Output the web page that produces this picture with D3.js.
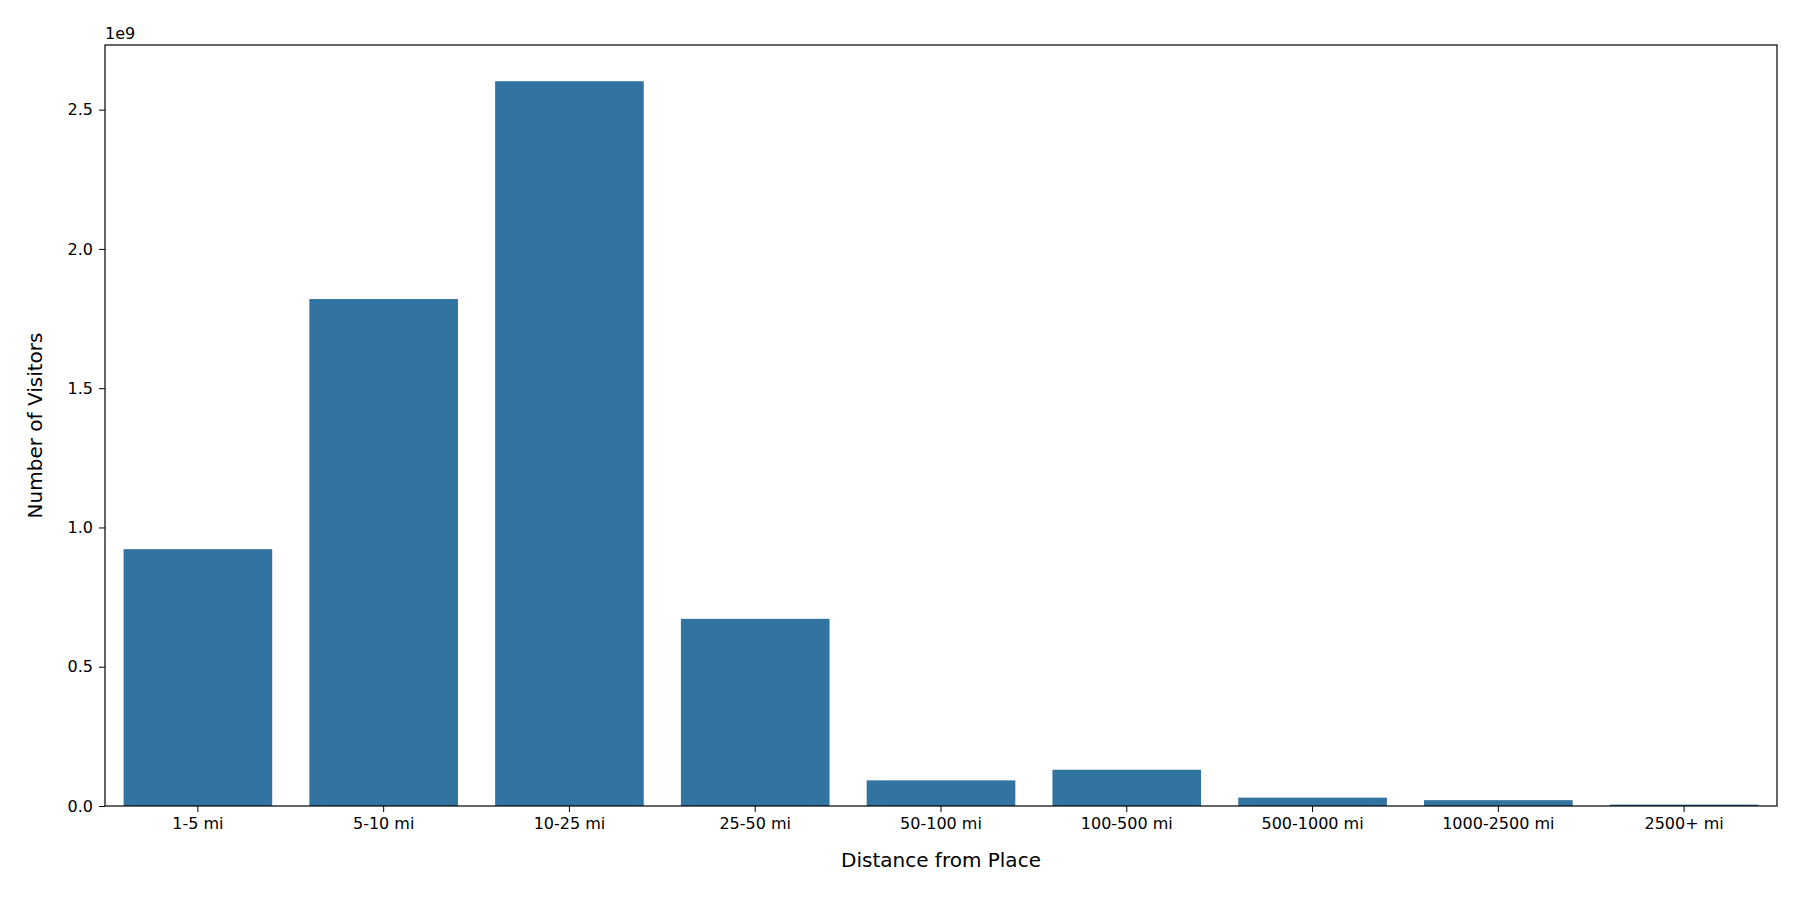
<!DOCTYPE html>
<html>
<head>
<meta charset="utf-8">
<script src="https://cdn.jsdelivr.net/npm/d3@7"></script>
<style>
body { margin: 0; background: #fff; }
text { font-family: "DejaVu Sans", sans-serif; }
</style>
</head>
<body>
<div class="barChart"></div>
<script>
const categories = ['1-5 mi', '5-10 mi', '10-25 mi', '25-50 mi', '50-100 mi', '100-500 mi', '500-1000 mi', '1000-2500 mi', '2500+ mi'];
const visitors = [0.922e9, 1.82e9, 2.602e9, 0.672e9, 0.092e9, 0.13e9, 0.03e9, 0.021e9, 0.005e9];
const yTicks = [0, 0.5e9, 1.0e9, 1.5e9, 2.0e9, 2.5e9];

const W = 1800, H = 900;
const margin = { top: 45, right: 23, bottom: 94, left: 105 };

const svg = d3.select('.barChart').append('svg')
    .attr('width', W).attr('height', H);

const x = d3.scaleBand()
    .domain(categories)
    .range([margin.left, W - margin.right])
    .paddingInner(0.2).paddingOuter(0.1);

const y = d3.scaleLinear()
    .domain([0, d3.max(visitors) * 1.05])
    .range([H - margin.bottom, margin.top]);

svg.append('g')
    .selectAll('rect')
    .data(visitors)
    .enter()
    .append('rect')
    .attr('x', (d, i) => x(categories[i]))
    .attr('y', d => y(d))
    .attr('width', x.bandwidth())
    .attr('height', d => y(0) - y(d))
    .attr('fill', '#3274a1');

const xAxis = svg.append('g')
    .attr('transform', `translate(0, ${H - margin.bottom})`)
    .call(d3.axisBottom(x).tickSize(6).tickPadding(6).tickSizeOuter(0));

const yAxis = svg.append('g')
    .attr('transform', `translate(${margin.left}, 0)`)
    .call(d3.axisLeft(y).tickValues(yTicks).tickFormat(d => (d / 1e9).toFixed(1)).tickSize(6).tickPadding(6).tickSizeOuter(0));

[xAxis, yAxis].forEach(a => {
    a.selectAll('text').attr('font-size', 16).attr('fill', '#000').attr('font-family', 'DejaVu Sans');
    a.selectAll('line').attr('stroke', '#000');
    a.select('.domain').remove();
});

// frame
svg.append('rect')
    .attr('x', margin.left).attr('y', margin.top)
    .attr('width', W - margin.left - margin.right)
    .attr('height', H - margin.top - margin.bottom)
    .attr('fill', 'none').attr('stroke', '#000').attr('stroke-width', 1.2);

svg.append('text')
    .attr('x', margin.left).attr('y', margin.top - 6)
    .attr('font-size', 16)
    .text('1e9');

svg.append('text')
    .attr('x', (margin.left + W - margin.right) / 2).attr('y', 867)
    .attr('text-anchor', 'middle').attr('font-size', 20)
    .text('Distance from Place');

svg.append('text')
    .attr('transform', `translate(42, ${(margin.top + H - margin.bottom) / 2}) rotate(-90)`)
    .attr('text-anchor', 'middle').attr('font-size', 20)
    .text('Number of Visitors');
</script>
</body>
</html>
